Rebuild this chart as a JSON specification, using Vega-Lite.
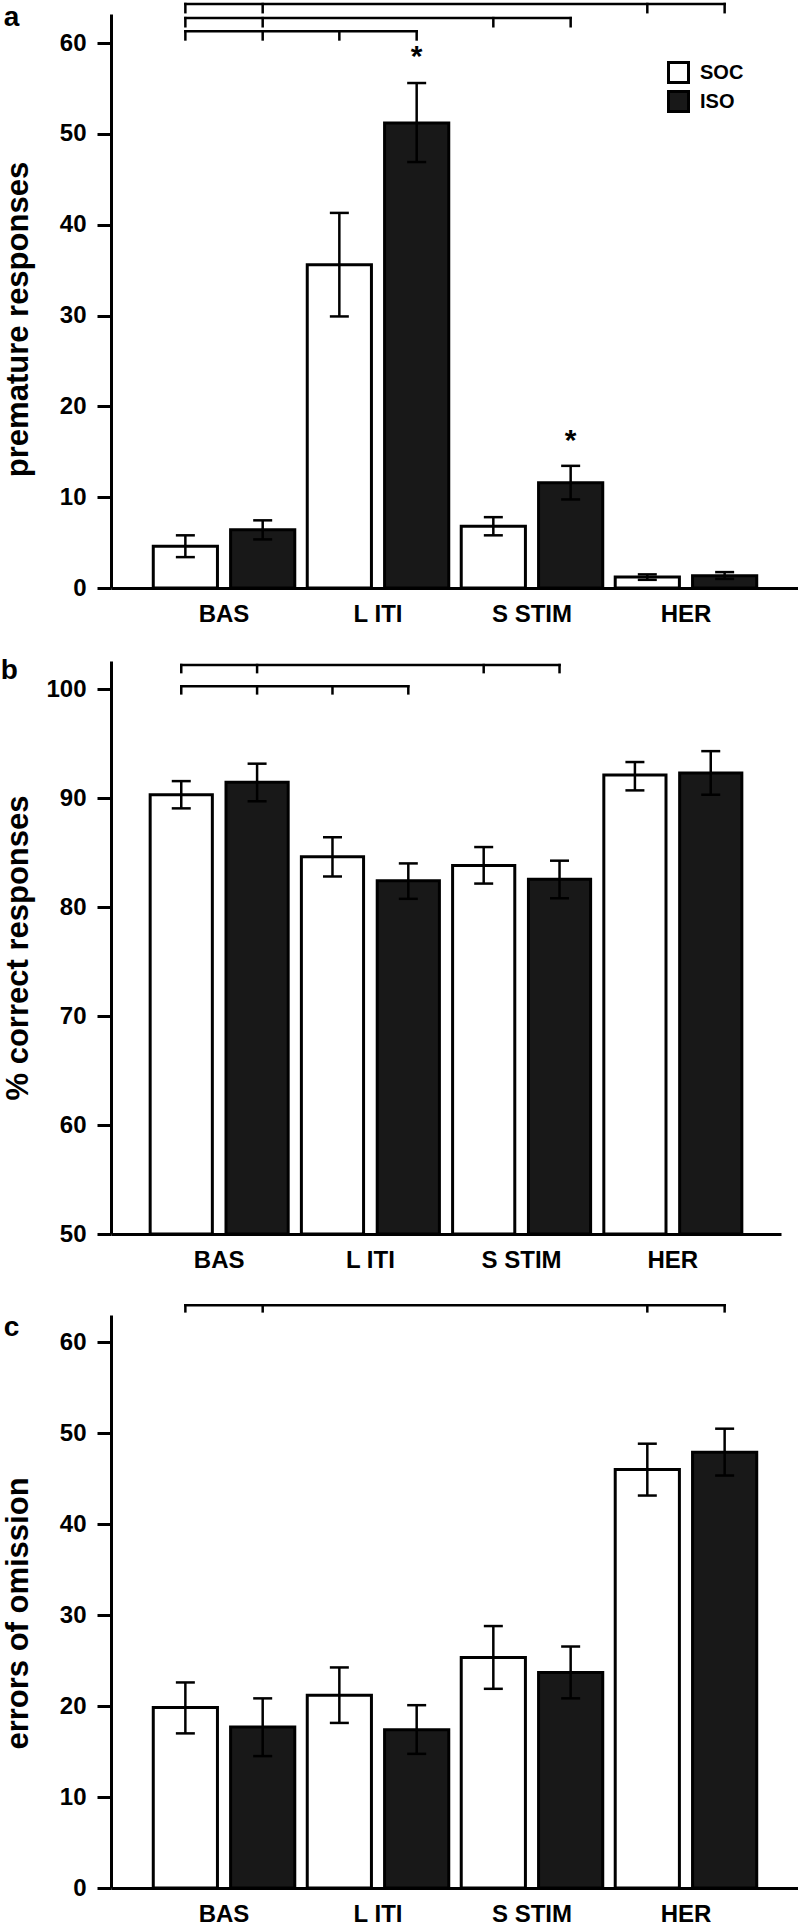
{
  "$schema": "https://vega.github.io/schema/vega-lite/v6.json",
  "background": "white",
  "padding": {"left": 0, "top": 2, "right": 0, "bottom": 0},
  "spacing": 31,
  "bounds": "full",
  "config": {
    "view": {"stroke": null},
    "axis": {"domainColor": "black", "domainWidth": 3, "tickColor": "black", "tickWidth": 3, "labelColor": "black", "labelFont": "Liberation Sans, Arial, sans-serif", "labelFontSize": 24, "labelFontWeight": "bold", "titleColor": "black", "titleFont": "Liberation Sans, Arial, sans-serif", "titleFontSize": 31, "titleFontWeight": "bold", "grid": false},
    "axisX": {"ticks": false, "tickSize": 0, "labelPadding": 14, "labelAngle": 0},
    "axisY": {"tickSize": 14, "labelPadding": 11, "minExtent": 66, "maxExtent": 66, "titlePadding": 11},
    "title": {"font": "Liberation Sans, Arial, sans-serif", "fontSize": 28, "fontWeight": "bold", "orient": "left", "anchor": "end", "frame": "group", "angle": 0, "align": "left", "baseline": "top", "color": "black"}
  },
  "datasets": {
    "premature": [
      {"cat": "BAS", "grp": "SOC", "v": 4.6, "lo": 3.4, "hi": 5.8},
      {"cat": "BAS", "grp": "ISO", "v": 6.4, "lo": 5.35, "hi": 7.45},
      {"cat": "L ITI", "grp": "SOC", "v": 35.6, "lo": 29.9, "hi": 41.3},
      {"cat": "L ITI", "grp": "ISO", "v": 51.2, "lo": 46.9, "hi": 55.6},
      {"cat": "S STIM", "grp": "SOC", "v": 6.8, "lo": 5.8, "hi": 7.8},
      {"cat": "S STIM", "grp": "ISO", "v": 11.6, "lo": 9.75, "hi": 13.45},
      {"cat": "HER", "grp": "SOC", "v": 1.2, "lo": 0.9, "hi": 1.5},
      {"cat": "HER", "grp": "ISO", "v": 1.35, "lo": 1.0, "hi": 1.75}
    ],
    "correct": [
      {"cat": "BAS", "grp": "SOC", "v": 90.3, "lo": 89.05, "hi": 91.55},
      {"cat": "BAS", "grp": "ISO", "v": 91.45, "lo": 89.7, "hi": 93.15},
      {"cat": "L ITI", "grp": "SOC", "v": 84.6, "lo": 82.8, "hi": 86.4},
      {"cat": "L ITI", "grp": "ISO", "v": 82.4, "lo": 80.75, "hi": 84.0},
      {"cat": "S STIM", "grp": "SOC", "v": 83.8, "lo": 82.15, "hi": 85.5},
      {"cat": "S STIM", "grp": "ISO", "v": 82.55, "lo": 80.8, "hi": 84.25},
      {"cat": "HER", "grp": "SOC", "v": 92.1, "lo": 90.7, "hi": 93.3},
      {"cat": "HER", "grp": "ISO", "v": 92.3, "lo": 90.3, "hi": 94.3}
    ],
    "omission": [
      {"cat": "BAS", "grp": "SOC", "v": 19.85, "lo": 17.0, "hi": 22.6},
      {"cat": "BAS", "grp": "ISO", "v": 17.7, "lo": 14.5, "hi": 20.85},
      {"cat": "L ITI", "grp": "SOC", "v": 21.2, "lo": 18.15, "hi": 24.25},
      {"cat": "L ITI", "grp": "ISO", "v": 17.4, "lo": 14.75, "hi": 20.1},
      {"cat": "S STIM", "grp": "SOC", "v": 25.35, "lo": 21.9, "hi": 28.8},
      {"cat": "S STIM", "grp": "ISO", "v": 23.7, "lo": 20.85, "hi": 26.55},
      {"cat": "HER", "grp": "SOC", "v": 46.0, "lo": 43.15, "hi": 48.85},
      {"cat": "HER", "grp": "ISO", "v": 47.9, "lo": 45.35, "hi": 50.5}
    ],
    "a_lines": [
      {"from": "BAS", "to": "HER", "y": 64.3},
      {"from": "BAS", "to": "S STIM", "y": 62.75},
      {"from": "BAS", "to": "L ITI", "y": 61.3}
    ],
    "a_ticks": [
      {"cat": "BAS", "grp": "SOC", "y": 64.3, "y2": 63.4},
      {"cat": "BAS", "grp": "ISO", "y": 64.3, "y2": 63.4},
      {"cat": "HER", "grp": "SOC", "y": 64.3, "y2": 63.4},
      {"cat": "HER", "grp": "ISO", "y": 64.3, "y2": 63.4},
      {"cat": "BAS", "grp": "SOC", "y": 62.75, "y2": 61.85},
      {"cat": "BAS", "grp": "ISO", "y": 62.75, "y2": 61.85},
      {"cat": "S STIM", "grp": "SOC", "y": 62.75, "y2": 61.85},
      {"cat": "S STIM", "grp": "ISO", "y": 62.75, "y2": 61.85},
      {"cat": "BAS", "grp": "SOC", "y": 61.3, "y2": 60.4},
      {"cat": "BAS", "grp": "ISO", "y": 61.3, "y2": 60.4},
      {"cat": "L ITI", "grp": "SOC", "y": 61.3, "y2": 60.4},
      {"cat": "L ITI", "grp": "ISO", "y": 61.3, "y2": 60.4}
    ],
    "a_stars": [
      {"cat": "L ITI", "grp": "ISO", "y": 57.5, "t": "*"},
      {"cat": "S STIM", "grp": "ISO", "y": 15.2, "t": "*"}
    ],
    "b_lines": [
      {"from": "BAS", "to": "S STIM", "y": 102.2},
      {"from": "BAS", "to": "L ITI", "y": 100.25}
    ],
    "b_ticks": [
      {"cat": "BAS", "grp": "SOC", "y": 102.2, "y2": 101.55},
      {"cat": "BAS", "grp": "ISO", "y": 102.2, "y2": 101.55},
      {"cat": "S STIM", "grp": "SOC", "y": 102.2, "y2": 101.55},
      {"cat": "S STIM", "grp": "ISO", "y": 102.2, "y2": 101.55},
      {"cat": "BAS", "grp": "SOC", "y": 100.25, "y2": 99.6},
      {"cat": "BAS", "grp": "ISO", "y": 100.25, "y2": 99.6},
      {"cat": "L ITI", "grp": "SOC", "y": 100.25, "y2": 99.6},
      {"cat": "L ITI", "grp": "ISO", "y": 100.25, "y2": 99.6}
    ],
    "c_lines": [
      {"from": "BAS", "to": "HER", "y": 64.07}
    ],
    "c_ticks": [
      {"cat": "BAS", "grp": "SOC", "y": 64.07, "y2": 63.4},
      {"cat": "BAS", "grp": "ISO", "y": 64.07, "y2": 63.4},
      {"cat": "HER", "grp": "SOC", "y": 64.07, "y2": 63.4},
      {"cat": "HER", "grp": "ISO", "y": 64.07, "y2": 63.4}
    ]
  },
  "resolve": {"scale": {"x": "independent", "y": "independent", "xOffset": "independent", "fill": "independent"}, "legend": {"fill": "independent"}},
  "vconcat": [
    {
      "width": 688, "height": 574,
      "title": {"text": "a", "offset": -33, "dy": -10},
      "layer": [
        {
          "data": {"name": "premature"},
          "mark": {"type": "bar", "stroke": "black", "strokeWidth": 3},
          "encoding": {
            "x": {"field": "cat", "type": "nominal", "title": null, "scale": {"domain": ["BAS", "L ITI", "S STIM", "HER"], "paddingInner": 0.081, "paddingOuter": 0.2745}},
            "xOffset": {"field": "grp", "type": "nominal", "scale": {"domain": ["SOC", "ISO"], "paddingInner": 0.17, "paddingOuter": 0}},
            "y": {"field": "v", "type": "quantitative", "title": "premature responses", "scale": {"domain": [0, 63.2], "nice": false}, "axis": {"values": [0, 10, 20, 30, 40, 50, 60], "titleY": 305}},
            "fill": {"field": "grp", "type": "nominal", "scale": {"domain": ["SOC", "ISO"], "range": ["#ffffff", "#181818"]},
              "legend": {"title": null, "orient": "none", "legendX": 556, "legendY": 47, "padding": 0, "symbolType": "square", "symbolSize": 400, "symbolStrokeColor": "black", "symbolStrokeWidth": 3, "symbolOpacity": 1, "labelFont": "Liberation Sans, Arial, sans-serif", "labelFontSize": 20, "labelFontWeight": "bold", "labelColor": "black", "labelOffset": 10, "rowPadding": -4}}
          }
        },
        {
          "data": {"name": "premature"},
          "mark": {"type": "rule", "strokeWidth": 2.5, "color": "black"},
          "encoding": {
            "x": {"field": "cat", "type": "nominal", "title": null},
            "xOffset": {"field": "grp", "type": "nominal"},
            "y": {"field": "lo", "type": "quantitative", "title": "premature responses"},
            "y2": {"field": "hi"}
          }
        },
        {
          "data": {"name": "premature"},
          "mark": {"type": "tick", "orient": "horizontal", "size": 19, "thickness": 2.5, "color": "black", "opacity": 1},
          "encoding": {
            "x": {"field": "cat", "type": "nominal", "title": null},
            "xOffset": {"field": "grp", "type": "nominal"},
            "y": {"field": "lo", "type": "quantitative", "title": "premature responses"}
          }
        },
        {
          "data": {"name": "premature"},
          "mark": {"type": "tick", "orient": "horizontal", "size": 19, "thickness": 2.5, "color": "black", "opacity": 1},
          "encoding": {
            "x": {"field": "cat", "type": "nominal", "title": null},
            "xOffset": {"field": "grp", "type": "nominal"},
            "y": {"field": "hi", "type": "quantitative", "title": "premature responses"}
          }
        },
        {
          "data": {"name": "a_lines"},
          "mark": {"type": "rule", "strokeWidth": 2.5, "color": "black", "strokeCap": "square"},
          "encoding": {
            "x": {"field": "from", "type": "nominal", "title": null, "bandPosition": 0.2268},
            "x2": {"field": "to", "bandPosition": 0.7732},
            "y": {"field": "y", "type": "quantitative", "title": "premature responses"}
          }
        },
        {
          "data": {"name": "a_ticks"},
          "mark": {"type": "rule", "strokeWidth": 2.5, "color": "black", "strokeCap": "square"},
          "encoding": {
            "x": {"field": "cat", "type": "nominal", "title": null},
            "xOffset": {"field": "grp", "type": "nominal"},
            "y": {"field": "y", "type": "quantitative", "title": "premature responses"},
            "y2": {"field": "y2"}
          }
        },
        {
          "data": {"name": "a_stars"},
          "mark": {"type": "text", "font": "Liberation Sans, Arial, sans-serif", "fontSize": 30, "fontWeight": "bold", "baseline": "alphabetic", "align": "center", "color": "black"},
          "encoding": {
            "x": {"field": "cat", "type": "nominal", "title": null},
            "xOffset": {"field": "grp", "type": "nominal"},
            "y": {"field": "y", "type": "quantitative", "title": "premature responses"},
            "text": {"field": "t"}
          }
        }
      ]
    },
    {
      "width": 670, "height": 573,
      "title": {"text": "b", "offset": -33, "dy": -4},
      "layer": [
        {
          "data": {"name": "correct"},
          "mark": {"type": "bar", "stroke": "black", "strokeWidth": 3},
          "encoding": {
            "x": {"field": "cat", "type": "nominal", "title": null, "scale": {"domain": ["BAS", "L ITI", "S STIM", "HER"], "paddingInner": 0.0873, "paddingOuter": 0.259}},
            "xOffset": {"field": "grp", "type": "nominal", "scale": {"domain": ["SOC", "ISO"], "paddingInner": 0.18, "paddingOuter": 0}},
            "y": {"field": "v", "type": "quantitative", "title": "% correct responses", "scale": {"domain": [50, 102.57], "nice": false, "zero": false}, "axis": {"values": [50, 60, 70, 80, 90, 100]}},
            "y2": {"datum": 50},
            "fill": {"field": "grp", "type": "nominal", "scale": {"domain": ["SOC", "ISO"], "range": ["#ffffff", "#181818"]}, "legend": null}
          }
        },
        {
          "data": {"name": "correct"},
          "mark": {"type": "rule", "strokeWidth": 2.5, "color": "black"},
          "encoding": {
            "x": {"field": "cat", "type": "nominal", "title": null},
            "xOffset": {"field": "grp", "type": "nominal"},
            "y": {"field": "lo", "type": "quantitative", "title": "% correct responses"},
            "y2": {"field": "hi"}
          }
        },
        {
          "data": {"name": "correct"},
          "mark": {"type": "tick", "orient": "horizontal", "size": 19, "thickness": 2.5, "color": "black", "opacity": 1},
          "encoding": {
            "x": {"field": "cat", "type": "nominal", "title": null},
            "xOffset": {"field": "grp", "type": "nominal"},
            "y": {"field": "lo", "type": "quantitative", "title": "% correct responses"}
          }
        },
        {
          "data": {"name": "correct"},
          "mark": {"type": "tick", "orient": "horizontal", "size": 19, "thickness": 2.5, "color": "black", "opacity": 1},
          "encoding": {
            "x": {"field": "cat", "type": "nominal", "title": null},
            "xOffset": {"field": "grp", "type": "nominal"},
            "y": {"field": "hi", "type": "quantitative", "title": "% correct responses"}
          }
        },
        {
          "data": {"name": "b_lines"},
          "mark": {"type": "rule", "strokeWidth": 2.5, "color": "black", "strokeCap": "square"},
          "encoding": {
            "x": {"field": "from", "type": "nominal", "title": null, "bandPosition": 0.2253},
            "x2": {"field": "to", "bandPosition": 0.7747},
            "y": {"field": "y", "type": "quantitative", "title": "% correct responses"}
          }
        },
        {
          "data": {"name": "b_ticks"},
          "mark": {"type": "rule", "strokeWidth": 2.5, "color": "black", "strokeCap": "square"},
          "encoding": {
            "x": {"field": "cat", "type": "nominal", "title": null},
            "xOffset": {"field": "grp", "type": "nominal"},
            "y": {"field": "y", "type": "quantitative", "title": "% correct responses"},
            "y2": {"field": "y2"}
          }
        }
      ]
    },
    {
      "width": 688, "height": 573,
      "title": {"text": "c", "offset": -33, "dy": -1},
      "layer": [
        {
          "data": {"name": "omission"},
          "mark": {"type": "bar", "stroke": "black", "strokeWidth": 3},
          "encoding": {
            "x": {"field": "cat", "type": "nominal", "title": null, "scale": {"domain": ["BAS", "L ITI", "S STIM", "HER"], "paddingInner": 0.081, "paddingOuter": 0.2745}},
            "xOffset": {"field": "grp", "type": "nominal", "scale": {"domain": ["SOC", "ISO"], "paddingInner": 0.17, "paddingOuter": 0}},
            "y": {"field": "v", "type": "quantitative", "title": "errors of omission", "scale": {"domain": [0, 63], "nice": false}, "axis": {"values": [0, 10, 20, 30, 40, 50, 60], "titleY": 298}},
            "fill": {"field": "grp", "type": "nominal", "scale": {"domain": ["SOC", "ISO"], "range": ["#ffffff", "#181818"]}, "legend": null}
          }
        },
        {
          "data": {"name": "omission"},
          "mark": {"type": "rule", "strokeWidth": 2.5, "color": "black"},
          "encoding": {
            "x": {"field": "cat", "type": "nominal", "title": null},
            "xOffset": {"field": "grp", "type": "nominal"},
            "y": {"field": "lo", "type": "quantitative", "title": "errors of omission"},
            "y2": {"field": "hi"}
          }
        },
        {
          "data": {"name": "omission"},
          "mark": {"type": "tick", "orient": "horizontal", "size": 19, "thickness": 2.5, "color": "black", "opacity": 1},
          "encoding": {
            "x": {"field": "cat", "type": "nominal", "title": null},
            "xOffset": {"field": "grp", "type": "nominal"},
            "y": {"field": "lo", "type": "quantitative", "title": "errors of omission"}
          }
        },
        {
          "data": {"name": "omission"},
          "mark": {"type": "tick", "orient": "horizontal", "size": 19, "thickness": 2.5, "color": "black", "opacity": 1},
          "encoding": {
            "x": {"field": "cat", "type": "nominal", "title": null},
            "xOffset": {"field": "grp", "type": "nominal"},
            "y": {"field": "hi", "type": "quantitative", "title": "errors of omission"}
          }
        },
        {
          "data": {"name": "c_lines"},
          "mark": {"type": "rule", "strokeWidth": 2.5, "color": "black", "strokeCap": "square"},
          "encoding": {
            "x": {"field": "from", "type": "nominal", "title": null, "bandPosition": 0.2268},
            "x2": {"field": "to", "bandPosition": 0.7732},
            "y": {"field": "y", "type": "quantitative", "title": "errors of omission"}
          }
        },
        {
          "data": {"name": "c_ticks"},
          "mark": {"type": "rule", "strokeWidth": 2.5, "color": "black", "strokeCap": "square"},
          "encoding": {
            "x": {"field": "cat", "type": "nominal", "title": null},
            "xOffset": {"field": "grp", "type": "nominal"},
            "y": {"field": "y", "type": "quantitative", "title": "errors of omission"},
            "y2": {"field": "y2"}
          }
        }
      ]
    }
  ]
}
